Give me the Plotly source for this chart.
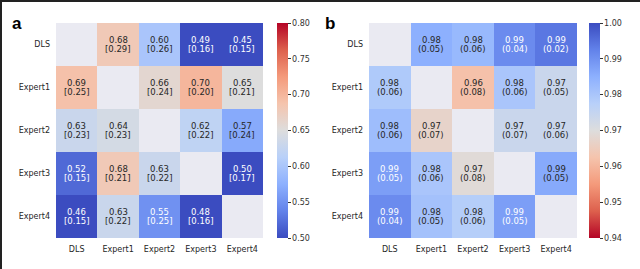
import plotly.graph_objects as go
from plotly.colors import sample_colorscale

labels = ["DLS", "Expert1", "Expert2", "Expert3", "Expert4"]

# Panel a: mean [sd]
a_mean = [
    [None, 0.68, 0.60, 0.49, 0.45],
    [0.69, None, 0.66, 0.70, 0.65],
    [0.63, 0.64, None, 0.62, 0.57],
    [0.52, 0.68, 0.63, None, 0.50],
    [0.46, 0.63, 0.55, 0.48, None],
]
a_sd = [
    [None, 0.29, 0.26, 0.16, 0.15],
    [0.25, None, 0.24, 0.20, 0.21],
    [0.23, 0.23, None, 0.22, 0.24],
    [0.15, 0.21, 0.22, None, 0.17],
    [0.15, 0.22, 0.25, 0.16, None],
]
# Panel b: mean (sd) -- means estimated with extra precision from cell colours
b_mean = [
    [None, 0.985, 0.983, 0.991, 0.994],
    [0.979, None, 0.962, 0.980, 0.974],
    [0.982, 0.967, None, 0.974, 0.974],
    [0.988, 0.980, 0.969, None, 0.986],
    [0.991, 0.981, 0.978, 0.988, None],
]
b_sd = [
    [None, 0.05, 0.06, 0.04, 0.02],
    [0.06, None, 0.08, 0.06, 0.05],
    [0.06, 0.07, None, 0.07, 0.06],
    [0.05, 0.06, 0.08, None, 0.05],
    [0.04, 0.05, 0.06, 0.05, None],
]
a_ticks = [0.50, 0.55, 0.60, 0.65, 0.70, 0.75, 0.80]
b_ticks = [0.94, 0.95, 0.96, 0.97, 0.98, 0.99, 1.00]

coolwarm = [
    [0.0, "rgb(59,76,192)"],
    [0.125, "rgb(98,130,234)"],
    [0.25, "rgb(141,176,254)"],
    [0.375, "rgb(184,208,249)"],
    [0.5, "rgb(221,221,221)"],
    [0.625, "rgb(245,196,173)"],
    [0.75, "rgb(244,154,123)"],
    [0.875, "rgb(221,96,77)"],
    [1.0, "rgb(180,4,38)"],
]
coolwarm_r = [[1 - p, c] for p, c in reversed(coolwarm)]

W, H = 640, 269
def fx(px):
    return px / W
def fy(py):
    return 1 - py / H

fig = go.Figure()
annotations = []

def lum(rgbstr):
    vals = [float(v) / 255 for v in rgbstr[rgbstr.index("(") + 1:-1].split(",")]
    lin = [v / 12.92 if v <= 0.03928 else ((v + 0.055) / 1.055) ** 2.4 for v in vals]
    return 0.2126 * lin[0] + 0.7152 * lin[1] + 0.0722 * lin[2]

def add_panel(mean, sd, zmin, zmax, cs, xa, ya, cbx, ticks, fmt_m, fmt_s):
    fig.add_trace(go.Heatmap(
        z=mean, x=labels, y=labels, zmin=zmin, zmax=zmax, colorscale=cs,
        xaxis=xa, yaxis=ya, hoverongaps=False,
        colorbar=dict(
            x=cbx, xanchor="left", xref="paper", xpad=0, ypad=0,
            y=fy(130.5), yanchor="middle",
            len=215 / H, lenmode="fraction", thickness=11, outlinewidth=0,
            tickvals=ticks, tickformat=".2f", ticks="outside", ticklen=3,
            tickcolor="#333", tickfont=dict(size=8, color="#333", family="DejaVu Sans"),
        ),
    ))
    xr, yr = xa.replace("axis", ""), ya.replace("axis", "")
    for i, row in enumerate(mean):
        for j, v in enumerate(row):
            if v is None:
                continue
            t = (min(max(v, zmin), zmax) - zmin) / (zmax - zmin)
            col = sample_colorscale(cs, [t])[0]
            tc = "#262626" if lum(col) > 0.408 else "white"
            for txt, shift in ((fmt_m.format(v), 4.5), (fmt_s.format(sd[i][j]), -4.5)):
                annotations.append(dict(
                    x=labels[j], y=labels[i], xref=xr, yref=yr, yshift=shift,
                    xanchor="center", yanchor="middle",
                    text=txt, showarrow=False,
                    font=dict(size=8.5, color=tc, family="DejaVu Sans"),
                ))

add_panel(a_mean, a_sd, 0.5, 0.8, coolwarm, "x", "y", fx(277), a_ticks, "{:.2f}", "[{:.2f}]")
add_panel(b_mean, b_sd, 0.94, 1.0, coolwarm_r, "x2", "y2", fx(589), b_ticks, "{:.2f}", "({:.2f})")

axis_common = dict(showgrid=False, zeroline=False, ticks="", showline=False, automargin=False,
                   ticklabelstandoff=5,
                   tickfont=dict(size=8, color="#262626", family="DejaVu Sans"))
fig.update_layout(
    width=W, height=H, margin=dict(l=0, r=0, t=0, b=0, autoexpand=False),
    paper_bgcolor="white", plot_bgcolor="#EAEAF2", showlegend=False,
    xaxis=dict(domain=[fx(56), fx(263)], anchor="y", **axis_common),
    yaxis=dict(domain=[fy(238), fy(23)], anchor="x", autorange="reversed", **axis_common),
    xaxis2=dict(domain=[fx(369), fx(577)], anchor="y2", **axis_common),
    yaxis2=dict(domain=[fy(238), fy(23)], anchor="x2", autorange="reversed", **axis_common),
    annotations=annotations + [
        dict(x=fx(17), y=fy(24), xref="paper", yref="paper", text="<b>a</b>", showarrow=False,
             xanchor="center", yanchor="middle",
             font=dict(size=17, color="black", family="Liberation Sans")),
        dict(x=fx(330), y=fy(24), xref="paper", yref="paper", text="<b>b</b>", showarrow=False,
             xanchor="center", yanchor="middle",
             font=dict(size=17, color="black", family="Liberation Sans")),
    ],
    shapes=[
        dict(type="line", xref="paper", yref="paper", x0=0, x1=1, y0=fy(1), y1=fy(1),
             line=dict(color="#222", width=2), layer="above"),
        dict(type="line", xref="paper", yref="paper", x0=fx(1), x1=fx(1), y0=0, y1=1,
             line=dict(color="#222", width=2), layer="above"),
    ],
)

post = (
    "document.documentElement.style.margin='0px';"
    "document.documentElement.style.overflow='hidden';"
    "document.body.style.margin='0px';document.body.style.overflow='hidden';"
    "var d=document.createElement('div');"
    "d.style.cssText='position:fixed;left:0;top:0;width:640px;height:269px;"
    "border-top:2px solid #222;border-left:2px solid #222;box-sizing:border-box;"
    "pointer-events:none;z-index:1000';"
    "document.body.appendChild(d);"
)
fig.write_html("out.html", config={"displayModeBar": False}, post_script=post)
